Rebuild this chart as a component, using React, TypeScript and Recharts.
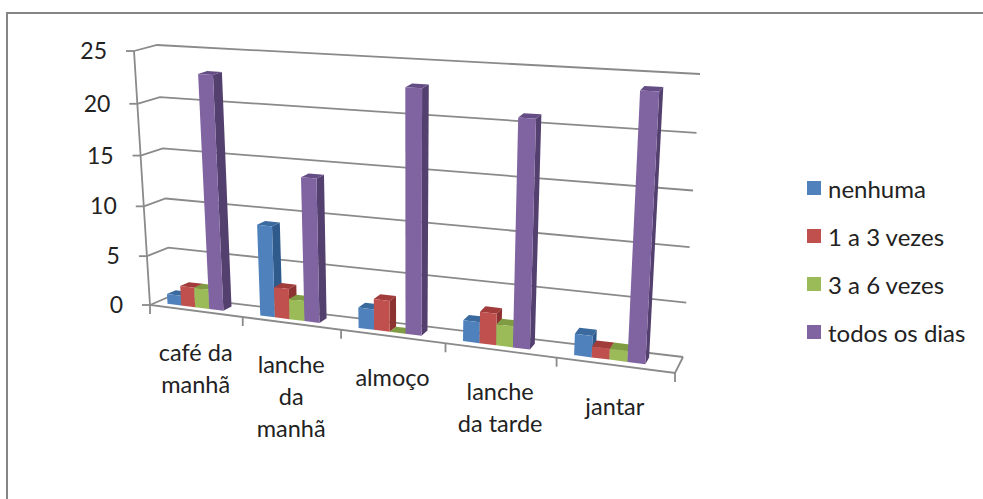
import React from "react"
import { Bar, BarChart, CartesianGrid, Customized, Legend, XAxis, YAxis } from "recharts"

const categories = ["café da manhã", "lanche da manhã", "almoço", "lanche da tarde", "jantar"]
const categoryLines = [["café da", "manhã"], ["lanche", "da", "manhã"], ["almoço"], ["lanche", "da tarde"], ["jantar"]]
const nenhuma = [1, 9, 2, 2, 2]
const umATres = [2, 3, 3, 3, 1]
const tresASeis = [2, 2, 0, 2, 1]
const todosOsDias = [23, 14, 23, 21, 24]
const valueTicks = [0, 5, 10, 15, 20, 25]

const rows = categories.map((name, i) => ({
  name,
  nenhuma: nenhuma[i],
  umATres: umATres[i],
  tresASeis: tresASeis[i],
  todosOsDias: todosOsDias[i],
}))

// flat plot rectangle handed to Recharts; everything is then projected onto the 3D box
const PLOT = { left: 150, top: 50, width: 525, height: 255 }
const LEGEND_WIDTH = 176
const FONT = "Lato, 'Noto Sans', sans-serif"
const TEXT = "#222"
const LINE = "#8a8a8a"
const LINE_W = 1.8

type Pt = [number, number]
const lerp = (a: Pt, b: Pt, t: number): Pt => [a[0] + (b[0] - a[0]) * t, a[1] + (b[1] - a[1]) * t]

// corners of the box: front / back, bottom / top, left / right
const FBL: Pt = [150, 305]
const FBR: Pt = [675, 373]
const FTL: Pt = [134, 51]
const FTR: Pt = [691, 85]
const BBL: Pt = [171, 296]
const BBR: Pt = [683, 357]
const BTL: Pt = [157, 45]
const BTR: Pt = [700, 74]

// u along categories, v up the value axis, w into the depth of the box
function project(u: number, v: number, w: number): Pt {
  const t = u / (1 + 0.165 * (1 - u))
  const h = v / (1 + 0.05 * (1 - v))
  const front = lerp(lerp(FBL, FBR, t), lerp(FTL, FTR, t), h)
  const back = lerp(lerp(BBL, BBR, t), lerp(BTL, BTR, t), h)
  return lerp(front, back, w)
}

const toU = (x: number) => (x - PLOT.left) / PLOT.width
const toV = (y: number) => (PLOT.top + PLOT.height - y) / PLOT.height
const pts = (list: Pt[]) => list.map((p) => `${p[0].toFixed(1)},${p[1].toFixed(1)}`).join(" ")

const BAR_FRONT = 0.3
const BAR_BACK = 0.72
const BAR_SHIFT = -0.013

function Box3D(props: any) {
  const { x, y, width, height, fill, side, top } = props
  const u0 = toU(x) + BAR_SHIFT
  const u1 = toU(x + width) + BAR_SHIFT
  const v0 = toV(y + height)
  const v1 = toV(y)
  return (
    <g>
      <polygon
        fill={side}
        points={pts([project(u1, v0, BAR_FRONT), project(u1, v0, BAR_BACK), project(u1, v1, BAR_BACK), project(u1, v1, BAR_FRONT)])}
      />
      <polygon
        fill={top}
        points={pts([project(u0, v1, BAR_FRONT), project(u1, v1, BAR_FRONT), project(u1, v1, BAR_BACK), project(u0, v1, BAR_BACK)])}
      />
      <polygon
        fill={fill}
        points={pts([project(u0, v0, BAR_FRONT), project(u1, v0, BAR_FRONT), project(u1, v1, BAR_FRONT), project(u0, v1, BAR_FRONT)])}
      />
    </g>
  )
}

function GridLine(props: any) {
  const v = toV(props.y1)
  return (
    <polyline
      key={props.key}
      fill="none"
      stroke={LINE}
      strokeWidth={LINE_W}
      points={pts([project(0, v, 0), project(0, v, 1), project(1, v, 1)])}
    />
  )
}

function BoxEdges() {
  return (
    <g fill="none" stroke={LINE} strokeWidth={LINE_W}>
      <polyline points={pts([project(0, 1, 0), project(0, 0, 0), project(1, 0, 0), project(1, 0, 1)])} />
    </g>
  )
}

function ValueTick(props: any) {
  const [px, py] = project(0, toV(props.y), 0)
  return (
    <g>
      <line x1={px - 8} y1={py} x2={px} y2={py} stroke={LINE} strokeWidth={LINE_W} />
      <text x={px - 27} y={py + 8} textAnchor="end" fontFamily={FONT} fontSize={23} fill={TEXT}>
        {props.payload.value}
      </text>
    </g>
  )
}

function CategoryTick(props: any) {
  const i = props.index
  const [px, py] = project(toU(props.x), 0, 0)
  const ticks = i === categories.length - 1 ? [i, i + 1] : [i]
  return (
    <g>
      {ticks.map((k) => {
        const [tx, ty] = project(k / categories.length, 0, 0)
        return <line key={k} x1={tx} y1={ty} x2={tx} y2={ty + 9} stroke={LINE} strokeWidth={LINE_W} />
      })}
      {categoryLines[i].map((line, n) => (
        <text key={line} x={px} y={py + 50 + n * 32} textAnchor="middle" fontFamily={FONT} fontSize={23.5} fill={TEXT}>
          {line}
        </text>
      ))}
    </g>
  )
}

function LegendList({ payload }: any) {
  return (
    <div>
      {payload.map((entry: any) => (
        <div key={entry.value} style={{ display: "flex", alignItems: "center", height: 48, fontFamily: FONT, fontSize: 24, color: TEXT }}>
          <span style={{ width: 14, height: 14, background: entry.color, marginRight: 7 }} />
          {entry.value}
        </div>
      ))}
    </div>
  )
}

export default function App() {
  return (
    <div style={{ position: "absolute", left: 0, top: 0, width: 983, height: 499, overflow: "hidden", background: "#fff" }}>
      <div style={{ position: "absolute", left: 6, top: 12, width: 1000, height: 520, border: "2px solid #868686" }} />
      <BarChart
        width={983}
        height={499}
        data={rows}
        barGap={0}
        barCategoryGap="19%"
        margin={{
          left: PLOT.left - 1,
          top: PLOT.top,
          right: 983 - PLOT.left - PLOT.width - LEGEND_WIDTH,
          bottom: 499 - PLOT.top - PLOT.height - 1,
        }}
      >
        <CartesianGrid horizontal={GridLine} vertical={false} />
        <Customized component={BoxEdges} />
        <XAxis dataKey="name" height={1} axisLine={false} tickLine={false} interval={0} tick={CategoryTick} />
        <YAxis domain={[0, 25]} ticks={valueTicks} width={1} axisLine={false} tickLine={false} interval={0} tick={ValueTick} />
        <Legend
          layout="vertical"
          align="right"
          verticalAlign="middle"
          width={LEGEND_WIDTH}
          itemSorter={null}
          content={LegendList}
          wrapperStyle={{ left: 807, top: 164, bottom: "auto", right: "auto" }}
        />
        <Bar dataKey="nenhuma" name="nenhuma" fill="#4f81bd" isAnimationActive={false} shape={(p: any) => <Box3D {...p} side="#2f5a8c" top="#3a6a9e" />} />
        <Bar dataKey="umATres" name="1 a 3 vezes" fill="#c0504d" isAnimationActive={false} shape={(p: any) => <Box3D {...p} side="#8c3230" top="#a23c3a" />} />
        <Bar dataKey="tresASeis" name="3 a 6 vezes" fill="#9bbb59" isAnimationActive={false} shape={(p: any) => <Box3D {...p} side="#6f8a3a" top="#7f9c42" />} />
        <Bar dataKey="todosOsDias" name="todos os dias" fill="#8064a2" isAnimationActive={false} shape={(p: any) => <Box3D {...p} side="#54406f" top="#644c84" />} />
      </BarChart>
    </div>
  )
}
